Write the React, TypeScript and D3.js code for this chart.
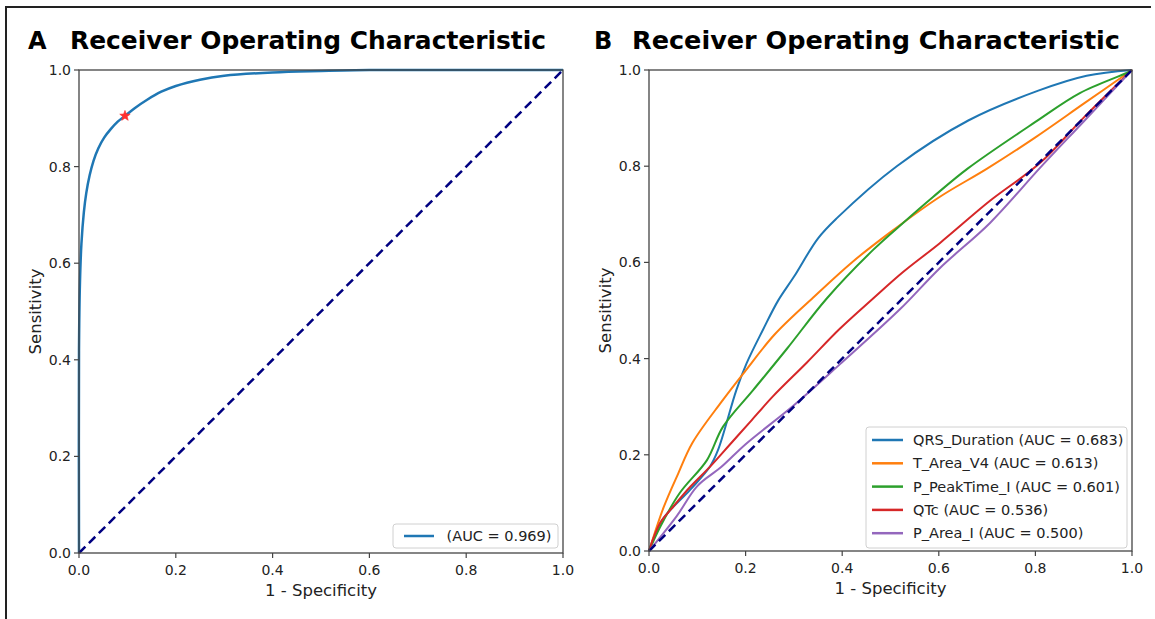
import React from "react";
import * as d3 from "d3";

const W = 1155;
const H = 619;

// Panel A data
const fprA = [0, 0, 0.002, 0.005, 0.01, 0.015, 0.022, 0.03, 0.04, 0.052, 0.066, 0.08, 0.095, 0.115, 0.14, 0.17, 0.2, 0.25, 0.3, 0.4, 0.5, 0.6, 0.7, 1.0];
const tprA = [0, 0.42, 0.56, 0.64, 0.705, 0.745, 0.782, 0.812, 0.838, 0.86, 0.878, 0.893, 0.905, 0.921, 0.938, 0.955, 0.967, 0.98, 0.988, 0.995, 0.998, 1, 1, 1];
const optimalPoint = [0.095, 0.905];
const legendA = " (AUC = 0.969)";

// Panel B data
const seriesNames = ["QRS_Duration", "T_Area_V4", "P_PeakTime_I", "QTc", "P_Area_I"];
const seriesAUC = ["0.683", "0.613", "0.601", "0.536", "0.500"];
const seriesColors = ["#1f77b4", "#ff7f0e", "#2ca02c", "#d62728", "#9467bd"];

const fprQRS = [0, 0.027, 0.085, 0.126, 0.143, 0.181, 0.202, 0.236, 0.267, 0.3, 0.35, 0.389, 0.513, 0.661, 0.806, 0.906, 1];
const tprQRS = [0, 0.064, 0.127, 0.175, 0.21, 0.335, 0.39, 0.46, 0.52, 0.57, 0.65, 0.692, 0.8, 0.895, 0.957, 0.988, 1];

const fprTArea = [0, 0.03, 0.06, 0.09, 0.15, 0.2, 0.26, 0.34, 0.42, 0.5, 0.6, 0.7, 0.8, 0.9, 1];
const tprTArea = [0, 0.09, 0.16, 0.225, 0.31, 0.375, 0.45, 0.527, 0.6, 0.663, 0.735, 0.795, 0.86, 0.93, 1];

const fprPeak = [0, 0.023, 0.064, 0.12, 0.153, 0.216, 0.286, 0.368, 0.464, 0.526, 0.588, 0.661, 0.8, 0.892, 0.989, 1];
const tprPeak = [0, 0.05, 0.121, 0.189, 0.258, 0.335, 0.421, 0.525, 0.626, 0.682, 0.736, 0.796, 0.892, 0.952, 0.994, 1];

const fprQTc = [0, 0.023, 0.05, 0.085, 0.126, 0.168, 0.209, 0.257, 0.327, 0.395, 0.464, 0.526, 0.602, 0.706, 0.81, 0.899, 1];
const tprQTc = [0, 0.058, 0.092, 0.133, 0.175, 0.222, 0.268, 0.322, 0.392, 0.462, 0.525, 0.58, 0.64, 0.728, 0.807, 0.9, 1];

const fprPArea = [0, 0.057, 0.1, 0.15, 0.2, 0.3, 0.395, 0.52, 0.602, 0.706, 0.81, 0.9, 1];
const tprPArea = [0, 0.072, 0.135, 0.175, 0.222, 0.303, 0.388, 0.503, 0.588, 0.682, 0.797, 0.893, 1];

const seriesFpr = [fprQRS, fprTArea, fprPeak, fprQTc, fprPArea];
const seriesTpr = [tprQRS, tprTArea, tprPeak, tprQTc, tprPArea];

const ticks = [0, 0.2, 0.4, 0.6, 0.8, 1.0];
const tickLabels = ["0.0", "0.2", "0.4", "0.6", "0.8", "1.0"];

const FONT = "DejaVu Sans, sans-serif";
const AXIS_COLOR = "#444";
const TEXT_COLOR = "#222";

type Scale = d3.ScaleLinear<number, number>;

type PanelProps = {
  x0: number;
  x1: number;
  y0: number;
  y1: number;
  letter: string;
  letterX: number;
  titleX: number;
  titleW: number;
  children: (xs: Scale, ys: Scale) => React.ReactNode;
};

function Panel({ x0, x1, y0, y1, letter, letterX, titleX, titleW, children }: PanelProps) {
  const xs = d3.scaleLinear().domain([0, 1]).range([x0, x1]);
  const ys = d3.scaleLinear().domain([0, 1]).range([y1, y0]);
  const diag = d3.line<number>().x((d) => xs(d)).y((d) => ys(d));
  return (
    <g>
      <text x={letterX} y={49} fontFamily={FONT} fontWeight="bold" fontSize={24} fill="#000">{letter}</text>
      <text x={titleX} y={49} fontFamily={FONT} fontWeight="bold" fontSize={24} fill="#000" textLength={titleW} lengthAdjust="spacingAndGlyphs">Receiver Operating Characteristic</text>
      <clipPath id={"clip" + letter}>
        <rect x={x0 - 2} y={y0 - 2} width={x1 - x0 + 4} height={y1 - y0 + 4} />
      </clipPath>
      <g clipPath={`url(#clip${letter})`}>
        {children(xs, ys)}
        <path d={diag([0, 1]) || ""} stroke="#000080" strokeWidth={2.5} strokeDasharray="9,5" fill="none" />
      </g>
      <rect x={x0} y={y0} width={x1 - x0} height={y1 - y0} fill="none" stroke={AXIS_COLOR} strokeWidth={1.3} />
      {ticks.map((t, i) => (
        <g key={"x" + i}>
          <line x1={xs(t)} x2={xs(t)} y1={y1} y2={y1 + 5} stroke={AXIS_COLOR} strokeWidth={1.2} />
          <text x={xs(t)} y={y1 + 22} textAnchor="middle" fontFamily={FONT} fontSize={14} fill={TEXT_COLOR}>{tickLabels[i]}</text>
        </g>
      ))}
      {ticks.map((t, i) => (
        <g key={"y" + i}>
          <line x1={x0 - 5} x2={x0} y1={ys(t)} y2={ys(t)} stroke={AXIS_COLOR} strokeWidth={1.2} />
          <text x={x0 - 8} y={ys(t) + 5} textAnchor="end" fontFamily={FONT} fontSize={14} fill={TEXT_COLOR}>{tickLabels[i]}</text>
        </g>
      ))}
      <text x={(x0 + x1) / 2} y={y1 + 43} textAnchor="middle" fontFamily={FONT} fontSize={16.5} fill={TEXT_COLOR}>1 - Specificity</text>
      <text transform={`translate(${x0 - 38},${(y0 + y1) / 2}) rotate(-90)`} textAnchor="middle" fontFamily={FONT} fontSize={16.5} fill={TEXT_COLOR}>Sensitivity</text>
    </g>
  );
}

function star(cx: number, cy: number, r: number) {
  const pts: [number, number][] = [];
  for (let i = 0; i < 10; i++) {
    const a = -Math.PI / 2 + (i * Math.PI) / 5;
    const rr = i % 2 === 0 ? r : r * 0.42;
    pts.push([cx + rr * Math.cos(a), cy + rr * Math.sin(a)]);
  }
  return "M" + pts.map((p) => p.join(",")).join("L") + "Z";
}

const lineGen = (xs: Scale, ys: Scale) =>
  d3
    .line<[number, number]>()
    .x((d) => xs(d[0]))
    .y((d) => ys(d[1]))
    .curve(d3.curveCatmullRom.alpha(0.5));

export default function App() {
  return (
    <svg width={W} height={H} style={{ position: "absolute", left: 0, top: 0, background: "#fff" }}>
      <rect x={0} y={0} width={W} height={H} fill="#fff" />
      <line x1={5} x2={1151} y1={7} y2={7} stroke="#222" strokeWidth={2} />
      <line x1={6} x2={6} y1={6} y2={H} stroke="#222" strokeWidth={2} />

      <Panel x0={79} x1={563} y0={70} y1={553} letter="A" letterX={28} titleX={70} titleW={476}>
        {(xs, ys) => {
          const pts = fprA.map((f, i) => [f, tprA[i]] as [number, number]);
          return (
            <g>
              <path d={lineGen(xs, ys)(pts) || ""} stroke="#1f77b4" strokeWidth={2.5} fill="none" />
              <path d={star(xs(optimalPoint[0]), ys(optimalPoint[1]), 5.5)} fill="#ff3030" stroke="#ff3030" strokeWidth={0.6} />
            </g>
          );
        }}
      </Panel>
      {(() => {
        const bx = 393, by = 524, bw = 165, bh = 24;
        return (
          <g>
            <rect x={bx} y={by} width={bw} height={bh} rx={3} fill="#fff" stroke="#d0d0d0" strokeWidth={1} />
            <line x1={bx + 11} x2={bx + 41} y1={by + 12} y2={by + 12} stroke="#1f77b4" strokeWidth={2.5} />
            <text x={bx + 49} y={by + 17} fontFamily={FONT} fontSize={14.5} fill={TEXT_COLOR} style={{ whiteSpace: "pre" }}>{legendA}</text>
          </g>
        );
      })()}

      <Panel x0={649} x1={1132} y0={70} y1={551} letter="B" letterX={594} titleX={632} titleW={488}>
        {(xs, ys) => (
          <g>
            {seriesNames.map((n, si) => {
              const pts = seriesFpr[si].map((f, i) => [f, seriesTpr[si][i]] as [number, number]);
              return <path key={n} d={lineGen(xs, ys)(pts) || ""} stroke={seriesColors[si]} strokeWidth={2} fill="none" />;
            })}
          </g>
        )}
      </Panel>
      {(() => {
        const bx = 866, by = 427, bw = 261, bh = 121;
        return (
          <g>
            <rect x={bx} y={by} width={bw} height={bh} rx={3} fill="#fff" stroke="#d0d0d0" strokeWidth={1} />
            {seriesNames.map((n, i) => (
              <g key={n}>
                <line x1={bx + 6} x2={bx + 37} y1={by + 13 + i * 23.3} y2={by + 13 + i * 23.3} stroke={seriesColors[i]} strokeWidth={2.5} />
                <text x={bx + 47} y={by + 18 + i * 23.3} fontFamily={FONT} fontSize={14.5} fill={TEXT_COLOR}>{`${n} (AUC = ${seriesAUC[i]})`}</text>
              </g>
            ))}
          </g>
        );
      })()}
    </svg>
  );
}
